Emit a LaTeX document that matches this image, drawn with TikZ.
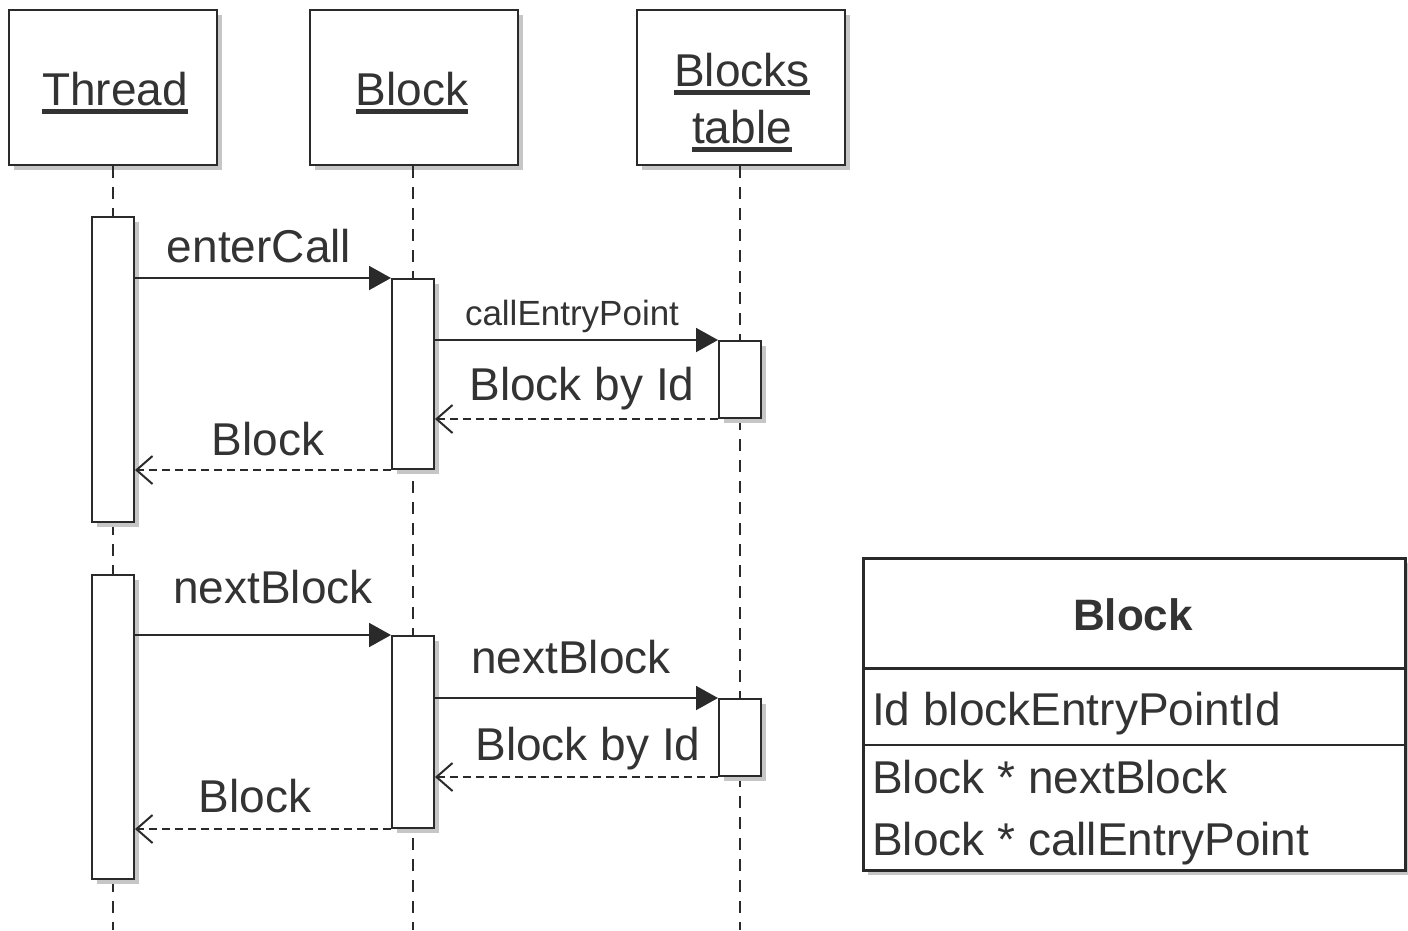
\documentclass[tikz,border=0pt]{standalone}
\usepackage{fontspec}
\setmainfont{Liberation Sans}
\usetikzlibrary{arrows.meta,shadows}
\newcommand\uln[1]{\setbox0\hbox{#1}\rlap{\rule[-9pt]{\wd0}{5pt}}\box0}
\newcommand\bigf{\fontsize{46}{52}\selectfont}
\newcommand\smallf{\fontsize{35}{40}\selectfont}
\definecolor{ink}{HTML}{2A2A2A}
\definecolor{txt}{HTML}{333333}
\tikzset{
  shad/.style={drop shadow={shadow xshift=5pt,shadow yshift=-5pt,fill=gray!45,opacity=1}},
  head/.style={draw=ink,line width=2pt,fill=white,shad,minimum width=208pt,minimum height=155pt,inner sep=0pt},
  act/.style={draw=ink,line width=2pt,fill=white,shad,minimum width=42pt,inner sep=0pt},
  life/.style={draw=ink,line width=2pt,dash pattern=on 12pt off 9pt},
  call/.style={draw=ink,line width=2pt,-{Triangle[length=22pt,width=24pt]}},
  ret/.style={draw=ink,line width=2pt,dash pattern=on 8pt off 5pt,-{Straight Barb[length=16pt,width=28pt,line width=2pt]}},
  lbl/.style={text=txt,font=\bigf,inner sep=0pt,anchor=base},
  slbl/.style={text=txt,font=\smallf,inner sep=0pt,anchor=base},
  cls/.style={draw=ink,line width=3pt,fill=white,shad,minimum width=542pt,minimum height=312pt,inner sep=0pt},
}
\begin{document}
\begin{tikzpicture}[x=1pt,y=-1pt]
\useasboundingbox (0,0) rectangle (1408,930);
% headers
\node[head] (thread) at (112.5,87.5) {};
\node[head] (block) at (414,87.5) {};
\node[head] (table) at (741,87.5) {};
\node[lbl] (threadt) at (115,105) {\uln{Thread}};
\node[lbl] (blockt) at (412,105) {\uln{Block}};
\node[lbl] (tablet1) at (742,86) {\uln{Blocks}};
\node[lbl] (tablet2) at (742,143) {\uln{table}};
% lifelines
\coordinate (threadend) at (113,930);
\coordinate (blockend) at (413,930);
\coordinate (tableend) at (740,930);
\draw[life] (thread.south -| threadend) -- (threadend);
\draw[life] (block.south -| blockend) -- (blockend);
\draw[life] (table.south -| tableend) -- (tableend);
% activations
\node[act,minimum height=305pt] (ta1) at (113,369.5) {};
\node[act,minimum height=304pt] (ta2) at (113,727) {};
\node[act,minimum height=190pt] (ba1) at (413,374) {};
\node[act,minimum height=192pt] (ba2) at (413,732) {};
\node[act,minimum height=77pt] (ca1) at (740,379.5) {};
\node[act,minimum height=77pt] (ca2) at (740,737.5) {};
% messages 1
\draw[call] (ta1.east |- ba1.north west) -- (ba1.north west);
\draw[call] (ba1.east |- ca1.north west) -- (ca1.north west);
\draw[ret] (ca1.south west) -- (ba1.east |- ca1.south west);
\draw[ret] (ba1.south west) -- (ta1.east |- ba1.south west);
\node[lbl] (m1) at (259,262) {enterCall};
\node[slbl] (m2) at (572,325) {callEntryPoint};
\node[lbl] (m3) at (582,400) {Block by Id};
\node[lbl] (m4) at (268,455) {Block};
% messages 2
\draw[call] (ta2.east |- ba2.north west) -- (ba2.north west);
\draw[call] (ba2.east |- ca2.north west) -- (ca2.north west);
\draw[ret] (ca2.south west) -- (ba2.east |- ca2.south west);
\draw[ret] (ba2.south west) -- (ta2.east |- ba2.south west);
\node[lbl] (n1) at (273,603) {nextBlock};
\node[lbl] (n2) at (571,673) {nextBlock};
\node[lbl] (n3) at (588,760) {Block by Id};
\node[lbl] (n4) at (255,812) {Block};
% class box
\node[cls] (cls) at (1134,714) {};
\coordinate (d1) at (0,668);
\coordinate (d2) at (0,745);
\draw[ink,line width=3pt] (cls.west |- d1) -- (cls.east |- d1);
\draw[ink,line width=2.5pt] (cls.west |- d2) -- (cls.east |- d2);
\node[lbl,font=\fontsize{44}{50}\selectfont\bfseries] (clsname) at (1133,630) {Block};
\node[lbl,anchor=base west] (attr) at (872,725) {Id blockEntryPointId};
\node[lbl,anchor=base west] (op1) at (872,793) {Block * nextBlock};
\node[lbl,anchor=base west] (op2) at (872,855) {Block * callEntryPoint};
\end{tikzpicture}
\end{document}
